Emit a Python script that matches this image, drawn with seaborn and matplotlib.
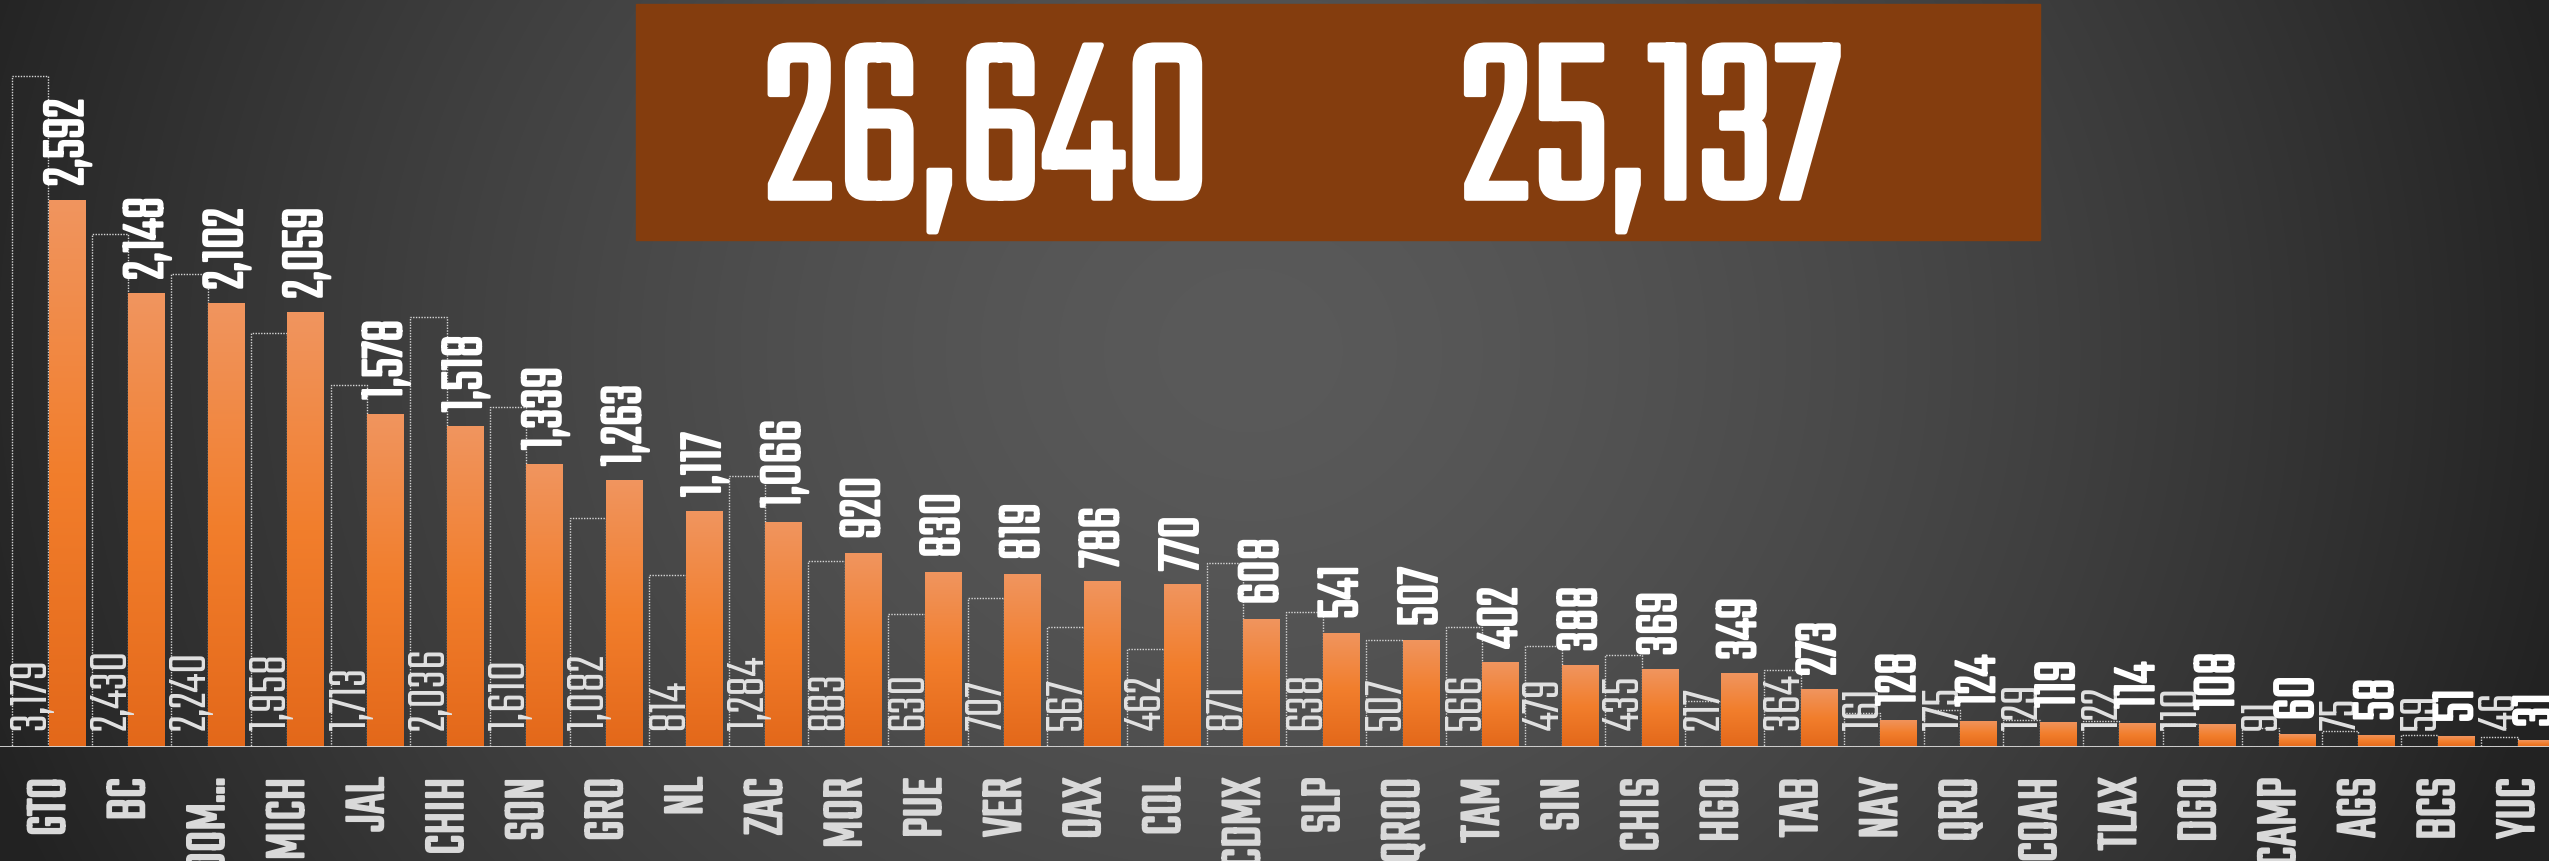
import numpy as np
import pandas as pd
import matplotlib
matplotlib.use("Agg")
import matplotlib.pyplot as plt
import matplotlib.patheffects as pe
import seaborn as sns
from matplotlib import font_manager
from matplotlib.colors import LinearSegmentedColormap
from matplotlib.patches import Rectangle

estados = ["GTO", "BC", "EDOM...", "MICH", "JAL", "CHIH", "SON", "GRO", "NL", "ZAC",
           "MOR", "PUE", "VER", "OAX", "COL", "CDMX", "SLP", "QROO", "TAM", "SIN",
           "CHIS", "HGO", "TAB", "NAY", "QRO", "COAH", "TLAX", "DGO", "CAMP", "AGS",
           "BCS", "YUC"]
anterior = [3179, 2430, 2240, 1958, 1713, 2036, 1610, 1082, 814, 1284,
            883, 630, 707, 567, 462, 871, 638, 507, 566, 479,
            435, 217, 364, 161, 175, 129, 122, 110, 91, 75,
            59, 46]
actual = [2592, 2148, 2102, 2059, 1578, 1518, 1339, 1263, 1117, 1066,
          920, 830, 819, 786, 770, 608, 541, 507, 402, 388,
          369, 349, 273, 128, 124, 119, 114, 108, 60, 58,
          51, 31]
total_anterior = "26,640"
total_actual = "25,137"

df = pd.DataFrame({
    "estado": estados * 2,
    "valor": anterior + actual,
    "serie": ["anterior"] * len(estados) + ["actual"] * len(estados),
})

# condensed font, whichever is installed
names = {f.name for f in font_manager.fontManager.ttflist}
pref = ["Teko", "Saira Extra Condensed", "Oswald", "Bebas Neue",
        "Barlow Condensed", "Roboto Condensed", "Liberation Sans Narrow"]
narrow = next((n for n in pref if n in names), "DejaVu Sans")
fam = [narrow, "DejaVu Sans"]

W, H = 2549, 861
fig = plt.figure(figsize=(W / 100, H / 100), dpi=100)

# background radial gradient
yy, xx = np.mgrid[0:H, 0:W]
d = np.sqrt(((xx - 1250) / 1350) ** 2 + ((yy - 350) / 1200) ** 2)
t = np.clip(d, 0, 1) ** 1.5
shade = (90 * (1 - t) + 34 * t) / 255
bg = np.dstack([shade, shade, shade])
ax_bg = fig.add_axes([0, 0, 1, 1], zorder=0)
ax_bg.imshow(bg, extent=[0, W, H, 0], aspect="auto")
ax_bg.set_xlim(0, W)
ax_bg.set_ylim(H, 0)
ax_bg.axis("off")

# totals box
ax_bg.add_patch(Rectangle((636, 4), 1404, 236, color="#843D0E", zorder=3))

ax = fig.add_axes([0, (H - 747) / H, 1, 747 / H], zorder=1)
ax.patch.set_alpha(0)

sns.barplot(data=df, x="estado", y="valor", hue="serie", order=estados,
            hue_order=["anterior", "actual"], width=0.917, legend=False,
            errorbar=None, ax=ax)

orange = LinearSegmentedColormap.from_list("og", ["#E3681A", "#F27E2C", "#F0955F"])
grad = np.linspace(0, 1, 256).reshape(-1, 1)

labels_ant = []
for rect, v in zip(ax.containers[0], anterior):
    rect.set_facecolor("none")
    rect.set_edgecolor("#d6d6d6")
    rect.set_linestyle((0, (1, 1)))
    rect.set_linewidth(1.0)
    cx = rect.get_x() + rect.get_width() / 2
    labels_ant.append(ax.text(cx, 80, f"{v:,}", rotation=90, ha="center", va="bottom",
                              fontsize=24, color="#e2e2e2", family=fam, zorder=4))

labels_act = []
for rect, v in zip(ax.containers[1], actual):
    rect.set_facecolor("#F07E2E")
    rect.set_edgecolor("none")
    x0, w, h = rect.get_x(), rect.get_width(), rect.get_height()
    im = ax.imshow(grad, extent=[x0, x0 + w, 0, h], origin="lower", aspect="auto",
                   cmap=orange, zorder=3)
    im.set_clip_path(rect)
    cx = x0 + w / 2
    lab = ax.annotate(f"{v:,}", (cx, v), xytext=(0, 10), textcoords="offset points",
                      rotation=90, ha="center", va="bottom", fontsize=30,
                      fontweight="bold", color="white", family=fam, zorder=4)
    lab.set_path_effects([pe.withStroke(linewidth=1.6, foreground="white")])
    labels_act.append(lab)

ax.set_xlim(-48.5 / 79.65, (W - 48.5) / 79.65)
ax.set_ylim(0, 3537)
ax.axhline(0, color="#d8d8d8", lw=1.3, zorder=5)

ax.set_xticks(range(len(estados)))
ax.set_xticklabels(estados, rotation=90, fontsize=26, fontweight="bold",
                   color="#d9d9d9", family=fam)
for tl in ax.get_xticklabels():
    tl.set_path_effects([pe.withStroke(linewidth=1.6, foreground="#d9d9d9")])
ax.tick_params(axis="x", length=0, pad=22)
ax.set_yticks([])
ax.set_xlabel("")
ax.set_ylabel("")
for s in ax.spines.values():
    s.set_visible(False)

big = []
for xc, s in [(988, total_anterior), (1650, total_actual)]:
    tx = fig.text(xc / W, 1 - 198 / H, s, ha="center", va="baseline",
                  fontsize=135, fontweight="bold", color="white", family=fam, zorder=5)
    tx.set_path_effects([pe.withStroke(linewidth=4, foreground="white")])
    big.append(tx)

# size texts so their lengths match the reference
fig.canvas.draw()
r = fig.canvas.get_renderer()


def scale_group(texts, sample, target, vertical):
    bb = sample.get_window_extent(r)
    k = target / (bb.height if vertical else bb.width)
    for tx in texts:
        tx.set_fontsize(tx.get_fontsize() * k)


scale_group(labels_act, labels_act[0], 86, True)
scale_group(labels_ant, labels_ant[0], 72, True)
scale_group(ax.get_xticklabels(), ax.get_xticklabels()[0], 58, True)
scale_group(big, big[0], 448, False)

fig.savefig("out.png", dpi=100)
